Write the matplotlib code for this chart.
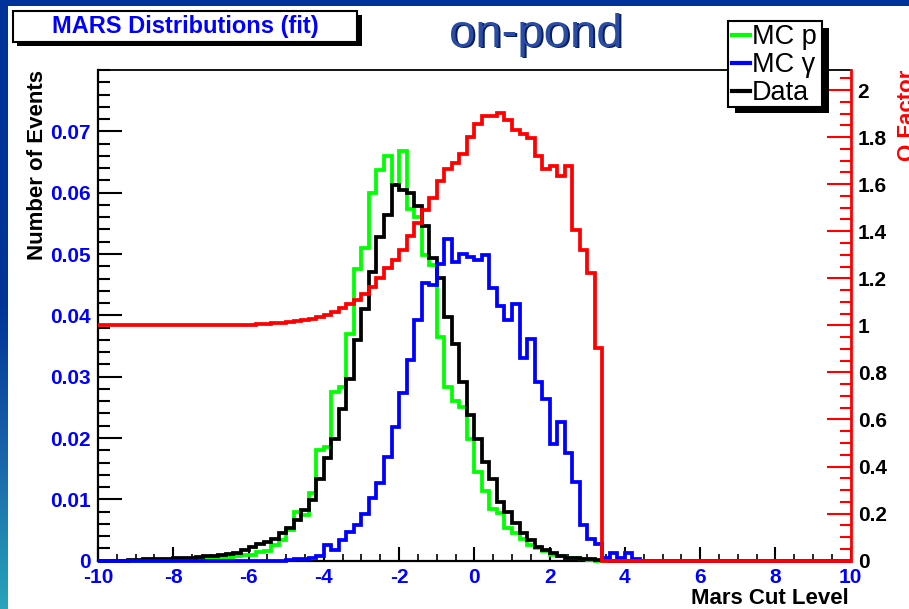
import matplotlib

matplotlib.use("Agg")

import matplotlib.pyplot as plt
import numpy as np
from matplotlib.lines import Line2D
from matplotlib.patches import Rectangle
from matplotlib.ticker import MultipleLocator


FIG_W, FIG_H = 909, 609

# 100 bins of width 0.2 between -10 and 10
BIN_EDGES = np.linspace(-10.0, 10.0, 101)

MC_P = [
    0, 0, 0, 0, 0, 0, 0, 0, 0, 0,
    0.0001, 0.0001, 0.0002, 0.0002, 0.0003, 0.0003, 0.0004, 0.0005, 0.0007, 0.0009,
    0.0010, 0.0014, 0.0015, 0.0025, 0.0033, 0.0050, 0.0080, 0.0074, 0.0110, 0.0180,
    0.0185, 0.0275, 0.0283, 0.0370, 0.0476, 0.0509, 0.0599, 0.0637, 0.0660, 0.0612,
    0.0668, 0.0574, 0.0560, 0.0498, 0.0482, 0.0365, 0.0283, 0.0260, 0.0251, 0.0199,
    0.0144, 0.0113, 0.0085, 0.0077, 0.0053, 0.0045, 0.0036, 0.0026, 0.0020, 0.0015,
    0.0010, 0.0007, 0.0005, 0.0004, 0.0002, 0.0001, 0, 0, 0, 0,
    0, 0, 0, 0, 0, 0, 0, 0, 0, 0,
    0, 0, 0, 0, 0, 0, 0, 0, 0, 0,
    0, 0, 0, 0, 0, 0, 0, 0, 0, 0,
]

MC_GAMMA = [
    0, 0, 0, 0, 0, 0, 0, 0, 0, 0,
    0, 0, 0, 0, 0, 0, 0, 0, 0, 0,
    0, 0, 0, 0, 0, 0.0001, 0.0002, 0.0003, 0.0005, 0.0008,
    0.0026, 0.0018, 0.0034, 0.0046, 0.0059, 0.0076, 0.0102, 0.0126, 0.0169, 0.0218,
    0.0273, 0.0327, 0.0392, 0.0452, 0.0449, 0.0483, 0.0525, 0.0487, 0.0500, 0.0495,
    0.0491, 0.0498, 0.0444, 0.0416, 0.0392, 0.0419, 0.0330, 0.0362, 0.0292, 0.0264,
    0.0191, 0.0226, 0.0175, 0.0129, 0.0058, 0.0036, 0.0028, 0.0005, 0.0012, 0.0004,
    0.0012, 0.0003, 0, 0, 0, 0, 0, 0, 0, 0,
    0, 0, 0, 0, 0, 0, 0, 0, 0, 0,
    0, 0, 0, 0, 0, 0, 0, 0, 0, 0,
]

DATA = [
    0, 0, 0, 0, 0.0001, 0.0001, 0.0002, 0.0002, 0.0003, 0.0003,
    0.0004, 0.0005, 0.0005, 0.0006, 0.0007, 0.0008, 0.0009, 0.0011, 0.0013, 0.0017,
    0.0023, 0.0027, 0.0031, 0.0036, 0.0045, 0.0053, 0.0066, 0.0083, 0.0099, 0.0134,
    0.0167, 0.0199, 0.0248, 0.0297, 0.0359, 0.0411, 0.0471, 0.0528, 0.0563, 0.0612,
    0.0604, 0.0599, 0.0579, 0.0545, 0.0494, 0.0461, 0.0397, 0.0354, 0.0292, 0.0237,
    0.0199, 0.0161, 0.0134, 0.0096, 0.0080, 0.0061, 0.0045, 0.0034, 0.0023, 0.0017,
    0.0012, 0.0008, 0.0005, 0.0004, 0.0003, 0.0002, 0.0001, 0.0001, 0, 0,
    0, 0, 0, 0, 0, 0, 0, 0, 0, 0,
    0, 0, 0, 0, 0, 0, 0, 0, 0, 0,
    0, 0, 0, 0, 0, 0, 0, 0, 0, 0,
]

Q_FACTOR = [
    1, 1, 1, 1, 1, 1, 1, 1, 1, 1,
    1, 1, 1, 1, 1, 1, 1, 1, 1, 1,
    1.002, 1.004, 1.006, 1.008, 1.011, 1.014, 1.018, 1.022, 1.028, 1.036,
    1.046, 1.058, 1.072, 1.090, 1.108, 1.134, 1.165, 1.201, 1.243, 1.279,
    1.321, 1.378, 1.435, 1.490, 1.541, 1.612, 1.666, 1.690, 1.729, 1.799,
    1.856, 1.889, 1.889, 1.903, 1.874, 1.832, 1.814, 1.794, 1.719, 1.666,
    1.676, 1.633, 1.676, 1.405, 1.319, 1.222, 0.903, 0, 0, 0,
    0, 0, 0, 0, 0, 0, 0, 0, 0, 0,
    0, 0, 0, 0, 0, 0, 0, 0, 0, 0,
    0, 0, 0, 0, 0, 0, 0, 0, 0, 0,
]

X_TICKS = [-10, -8, -6, -4, -2, 0, 2, 4, 6, 8, 10]
Y_TICKS = [0, 0.01, 0.02, 0.03, 0.04, 0.05, 0.06, 0.07]
Q_TICKS = [0, 0.2, 0.4, 0.6, 0.8, 1.0, 1.2, 1.4, 1.6, 1.8, 2.0]

SERIES_LABELS = ["MC p", "MC \u03b3", "Data"]
SERIES_COLORS = ["#00ff00", "#0000ff", "#000000"]

FONT = "Liberation Sans"


def fx(px: float) -> float:
    return px / FIG_W


def fy(py: float) -> float:
    return 1.0 - py / FIG_H


def draw_background(fig: plt.Figure) -> None:
    # Slide-style frame: navy bar on top, navy->teal strip down the left side.
    stops = np.array([0.0, 0.5, 0.75, 1.0])
    cols = np.array([[0, 51, 153], [0, 51, 150], [25, 100, 170], [40, 165, 185]]) / 255.0
    t = np.linspace(0, 1, 256)
    grad = np.stack([np.interp(t, stops, cols[:, i]) for i in range(3)], axis=1)[:, None, :]
    strip = fig.add_axes([0, 0, fx(8), 1])
    strip.imshow(grad, aspect="auto", extent=(0, 1, 0, 1), origin="upper")
    strip.set_axis_off()
    fig.patches.append(
        Rectangle((0, fy(6)), 1, 6 / FIG_H, transform=fig.transFigure, facecolor="#003399", edgecolor="none")
    )


def draw_title_boxes(fig: plt.Figure) -> None:
    fig.patches.append(
        Rectangle((fx(17), fy(46)), fx(345), 31 / FIG_H, transform=fig.transFigure,
                  facecolor="black", edgecolor="none", zorder=3)
    )
    fig.patches.append(
        Rectangle((fx(13), fy(42)), fx(344), 31 / FIG_H, transform=fig.transFigure,
                  facecolor="white", edgecolor="black", linewidth=1.5, zorder=4)
    )
    fig.text(fx(185), fy(27), "MARS Distributions (fit)", ha="center", va="center",
             fontsize=17, fontweight="bold", color="#0000ff", family=FONT, zorder=5)

    fig.text(fx(537.5), fy(48.5), "on-pond", ha="center", va="baseline", fontsize=34,
             color="#0b1f5c", family=FONT, zorder=5)
    fig.text(fx(536), fy(47), "on-pond", ha="center", va="baseline", fontsize=34,
             color="#2a4ca3", family=FONT, zorder=6)


def draw_legend(fig: plt.Figure) -> None:
    fig.patches.append(
        Rectangle((fx(735), fy(113)), fx(94), 85 / FIG_H, transform=fig.transFigure,
                  facecolor="black", edgecolor="none", zorder=10)
    )
    fig.patches.append(
        Rectangle((fx(728), fy(107)), fx(94), 86 / FIG_H, transform=fig.transFigure,
                  facecolor="white", edgecolor="black", linewidth=1.5, zorder=11)
    )
    rows = [35, 63, 91]
    for label, color, row in zip(SERIES_LABELS, SERIES_COLORS, rows):
        fig.lines.append(
            Line2D([fx(732), fx(750)], [fy(row), fy(row)], transform=fig.transFigure,
                   color=color, linewidth=3.0, zorder=12)
        )
        fig.text(fx(752), fy(row + 9.5), label, ha="left", va="baseline", fontsize=19.5,
                 color="black", family=FONT, zorder=12)


def main() -> None:
    plt.rcParams["font.family"] = [FONT, "DejaVu Sans"]
    fig = plt.figure(figsize=(FIG_W / 100, FIG_H / 100), dpi=100)
    fig.patch.set_facecolor("white")

    draw_background(fig)

    ax = fig.add_axes([fx(98), fy(560.7), fx(850.7 - 98), (560.7 - 70) / FIG_H])
    ax.set_xlim(-10, 10)
    ax.set_ylim(0, 0.08)

    lw = 2.7
    ax.stairs(MC_P, BIN_EDGES, color=SERIES_COLORS[0], linewidth=lw, baseline=None, clip_on=False, zorder=3)
    ax.stairs(DATA, BIN_EDGES, color=SERIES_COLORS[2], linewidth=lw, baseline=None, clip_on=False, zorder=4)
    ax.stairs(MC_GAMMA, BIN_EDGES, color=SERIES_COLORS[1], linewidth=lw, baseline=None, clip_on=False, zorder=5)

    for side in ("left", "bottom"):
        ax.spines[side].set_linewidth(1.6)
    ax.spines["top"].set_linewidth(1.3)
    ax.spines["right"].set_visible(False)

    ax.set_xticks(X_TICKS, [f"{v:g}" for v in X_TICKS], fontsize=15, fontweight="bold", color="#0000ff")
    ax.set_yticks(Y_TICKS, [f"{v:g}" for v in Y_TICKS], fontsize=15, fontweight="bold", color="#0000ff")
    ax.xaxis.set_minor_locator(MultipleLocator(0.5))
    ax.yaxis.set_minor_locator(MultipleLocator(0.002))
    ax.tick_params(axis="x", which="major", direction="in", length=10, width=1.5, pad=5, top=False)
    ax.tick_params(axis="x", which="minor", direction="in", length=5, width=1.2, top=False)
    ax.tick_params(axis="y", which="major", direction="in", length=17, width=1.5, pad=5, right=False)
    ax.tick_params(axis="y", which="minor", direction="in", length=8.5, width=1.5, right=False)

    ax2 = ax.twinx()
    ax2.set_ylim(0, 2.085)
    ax2.stairs(Q_FACTOR, BIN_EDGES, color="#ff0000", linewidth=lw, baseline=None, clip_on=False, zorder=6)
    for side in ("left", "top", "bottom"):
        ax2.spines[side].set_visible(False)
    ax2.spines["right"].set_color("#ff0000")
    ax2.spines["right"].set_linewidth(2.0)
    ax2.set_yticks(Q_TICKS, [f"{v:g}" for v in Q_TICKS], fontsize=15, fontweight="bold", color="black")
    ax2.yaxis.set_minor_locator(MultipleLocator(0.05))
    ax2.tick_params(axis="y", which="major", direction="in", length=17, width=1.5, color="#ff0000", pad=5)
    ax2.tick_params(axis="y", which="minor", direction="in", length=8, width=1.5, color="#ff0000")

    fig.text(fx(27), fy(70), "Number of Events", rotation=90, ha="left", va="top",
             fontsize=16, fontweight="bold", color="black")
    fig.text(fx(849), fy(598), "Mars Cut Level", ha="right", va="center",
             fontsize=16, fontweight="bold", color="black")
    fig.text(fx(897), fy(70), "Q Factor", rotation=90, ha="left", va="top",
             fontsize=16, fontweight="bold", color="#ff0000")

    draw_title_boxes(fig)
    draw_legend(fig)

    fig.savefig("out.png", dpi=100)
    plt.close(fig)


if __name__ == "__main__":
    main()
